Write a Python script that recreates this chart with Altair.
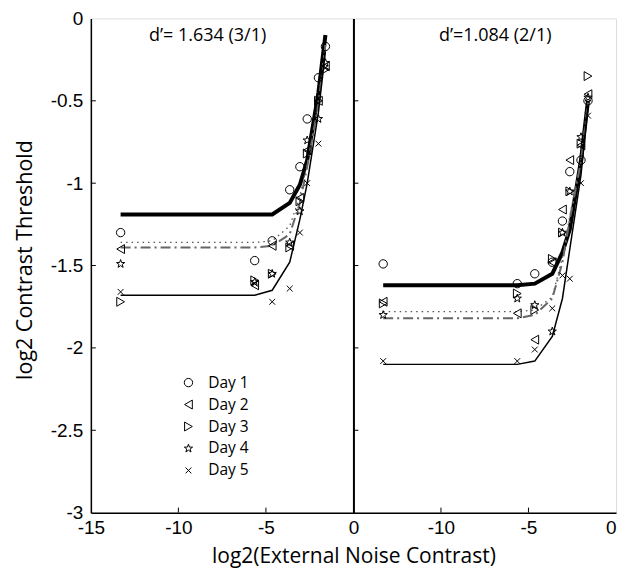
import altair as alt
import pandas as pd

# ---------------- data ----------------
noise_x = [-13.3, -5.64, -4.64, -3.64, -3.06, -2.64, -2.0, -1.6]
days = ["Day 1", "Day 2", "Day 3", "Day 4", "Day 5"]

# left panel (d' = 1.634)
L_day1 = [-1.30, -1.47, -1.35, -1.04, -0.90, -0.61, -0.36, -0.17]
L_day2 = [-1.40, -1.62, -1.38, -1.38, -1.09, -0.80, -0.50, -0.29]
L_day3 = [-1.72, -1.59, -1.55, -1.39, -1.11, -0.82, -0.50, -0.31]
L_day4 = [-1.49, -1.60, -1.55, -1.36, -1.17, -0.74, -0.61, -0.27]
L_day5 = [-1.66, -1.61, -1.72, -1.64, -1.30, -1.00, -0.76, -0.30]
L_fit_thick = [-1.19, -1.19, -1.19, -1.12, -1.01, -0.86, -0.45, -0.10]
L_fit_dotted = [-1.36, -1.36, -1.35, -1.26, -1.08, -0.88, -0.50, -0.15]
L_fit_dashdot = [-1.39, -1.39, -1.38, -1.31, -1.12, -0.90, -0.52, -0.16]
L_fit_thin = [-1.68, -1.68, -1.65, -1.48, -1.22, -1.00, -0.57, -0.20]

# right panel (d' = 1.084)
R_day1 = [-1.49, -1.61, -1.55, -1.48, -1.23, -0.93, -0.86, -0.50]
R_day2 = [-1.72, -1.79, -1.95, -1.48, -1.16, -0.86, -0.77, -0.46]
R_day3 = [-1.73, -1.67, -1.77, -1.46, -1.30, -1.05, -0.76, -0.35]
R_day4 = [-1.80, -1.70, -1.74, -1.90, -1.30, -1.05, -0.72, -0.48]
R_day5 = [-2.08, -2.08, -2.01, -1.76, -1.56, -1.58, -1.00, -0.59]
R_fit_thick = [-1.62, -1.62, -1.61, -1.55, -1.42, -1.28, -0.86, -0.50]
R_fit_dotted = [-1.78, -1.78, -1.77, -1.69, -1.45, -1.20, -0.85, -0.50]
R_fit_dashdot = [-1.82, -1.82, -1.80, -1.70, -1.48, -1.22, -0.87, -0.51]
R_fit_thin = [-2.10, -2.10, -2.08, -1.93, -1.70, -1.40, -0.95, -0.53]

panel_labels = ["d\u2019= 1.634 (3/1)", "d\u2019=1.084 (2/1)"]
y_ticks = [0, -0.5, -1, -1.5, -2, -2.5, -3]
x_ticks_left = [-15, -10, -5, 0]
x_ticks_right = [-10, -5, 0]
inner_x_ticks = [-10, -5]
x_title = "log2(External Noise Contrast)"
y_title = "log2 Contrast Threshold"

# ---------------- styling ----------------
W, H = 263, 495
STAR = ("M0,-1L0.235,-0.324L0.951,-0.309L0.38,0.124L0.588,0.809L0,0.4"
        "L-0.588,0.809L-0.38,0.124L-0.951,-0.309L-0.235,-0.324Z")
XMARK = "M-1,-1L1,1M1,-1L-1,1"
shapes = ["circle", "triangle-left", "triangle-right", STAR, XMARK]
sizes = [70, 80, 80, 75, 34]

xscale = alt.Scale(domain=[-15, 0], nice=False, zero=False)
yscale = alt.Scale(domain=[-3, 0], nice=False, zero=False)
TICK_FONT = "Liberation Sans"
TEXT_FONT = "Open Sans"

legend = alt.Legend(
    title=None, orient="none", legendX=90, legendY=357, labelFont=TEXT_FONT,
    labelFontSize=15.5, labelColor="black", labelOffset=12, rowPadding=5,
    symbolStrokeColor="black", symbolStrokeWidth=1, symbolFillColor="transparent",
)


def make_panel(day_vals, fits, label, xticks, left):
    if left:
        xaxis = alt.Axis(
            values=xticks, labelExpr="toString(datum.value)", grid=False, tickSize=0,
            domainColor="black", domainWidth=1.5, labelFont=TICK_FONT, labelFontSize=19,
            labelColor="black", labelPadding=6, labelFlush=False, title=x_title,
            titleFont=TEXT_FONT, titleFontSize=21, titleFontWeight="normal",
            titleColor="black", titleX=W, titlePadding=8,
        )
        yaxis = alt.Axis(
            values=y_ticks, labelExpr="toString(datum.value)", grid=False, tickSize=0,
            domainColor="black", domainWidth=1.5, labelFont=TICK_FONT, labelFontSize=19,
            labelColor="black", labelPadding=8, title=y_title, titleFont=TEXT_FONT,
            titleFontSize=21.5, titleFontWeight="normal", titleColor="black",
            titlePadding=14, titleY=H / 2 - 6,
        )
    else:
        xaxis = alt.Axis(
            values=xticks, labelExpr="toString(datum.value)", grid=False, tickSize=0,
            domainColor="black", domainWidth=1.5, labelFont=TICK_FONT, labelFontSize=19,
            labelColor="black", labelPadding=6, title=None, labelFlush=True,
        )
        yaxis = alt.Axis(values=y_ticks, labels=False, grid=False, tickSize=0,
                         domainColor="black", domainWidth=2, title=None)

    def X():
        return alt.X("x:Q", scale=xscale, axis=xaxis)

    def Y():
        return alt.Y("y:Q", scale=yscale, axis=yaxis)

    rows = []
    for d, vals in zip(days, day_vals):
        for xv, yv in zip(noise_x, vals):
            rows.append({"x": xv, "y": yv, "day": d})
    pts = pd.DataFrame(rows)

    thick, dotted, dashdot, thin = fits
    lines = [
        alt.Chart(pd.DataFrame({"x": noise_x, "y": thick})).mark_line(
            color="black", strokeWidth=4).encode(x=X(), y=Y()),
        alt.Chart(pd.DataFrame({"x": noise_x, "y": dotted})).mark_line(
            color="#555555", strokeWidth=1.3, strokeDash=[1.5, 4]).encode(x=X(), y=Y()),
        alt.Chart(pd.DataFrame({"x": noise_x, "y": dashdot})).mark_line(
            color="#666666", strokeWidth=2, strokeDash=[10, 4, 2, 4]).encode(x=X(), y=Y()),
        alt.Chart(pd.DataFrame({"x": noise_x, "y": thin})).mark_line(
            color="black", strokeWidth=1.5).encode(x=X(), y=Y()),
    ]

    ytick_layer = alt.Chart(pd.DataFrame({"y": y_ticks[1:-1]})).mark_rule(
        color="black", strokeWidth=1).encode(y=Y(), x=alt.value(0), x2=alt.value(5))
    xtick_layer = alt.Chart(pd.DataFrame({"x": inner_x_ticks})).mark_rule(
        color="black", strokeWidth=1).encode(x=X(), y=alt.value(H), y2=alt.value(H - 5))

    points = alt.Chart(pts).mark_point(filled=False, color="black", strokeWidth=1,
                                       opacity=1).encode(
        x=X(), y=Y(),
        shape=alt.Shape("day:N", scale=alt.Scale(domain=days, range=shapes),
                        legend=legend),
        size=alt.Size("day:N", scale=alt.Scale(type="ordinal", domain=days, range=sizes),
                      legend=legend),
    )

    text = alt.Chart(pd.DataFrame({"t": [label]})).mark_text(
        font=TEXT_FONT, fontSize=18, color="black", align="center", baseline="middle"
    ).encode(text="t:N", x=alt.value(117 if left else 142), y=alt.value(18))

    return alt.layer(*lines, ytick_layer, xtick_layer, points, text).properties(
        width=W, height=H)


left = make_panel([L_day1, L_day2, L_day3, L_day4, L_day5],
                  [L_fit_thick, L_fit_dotted, L_fit_dashdot, L_fit_thin],
                  panel_labels[0], x_ticks_left, True)
right = make_panel([R_day1, R_day2, R_day3, R_day4, R_day5],
                   [R_fit_thick, R_fit_dotted, R_fit_dashdot, R_fit_thin],
                   panel_labels[1], x_ticks_right, False)

chart = alt.hconcat(left, right, spacing=0, bounds="flush").resolve_scale(
    shape="shared", size="shared").resolve_legend(shape="shared", size="shared"
).properties(
    padding={"left": 5, "top": 0, "right": 0, "bottom": 0}
).configure_view(stroke="#8a8a8a", strokeWidth=1).configure(background="white")

chart.save("out.html", embed_options={"renderer": "svg", "actions": False})
